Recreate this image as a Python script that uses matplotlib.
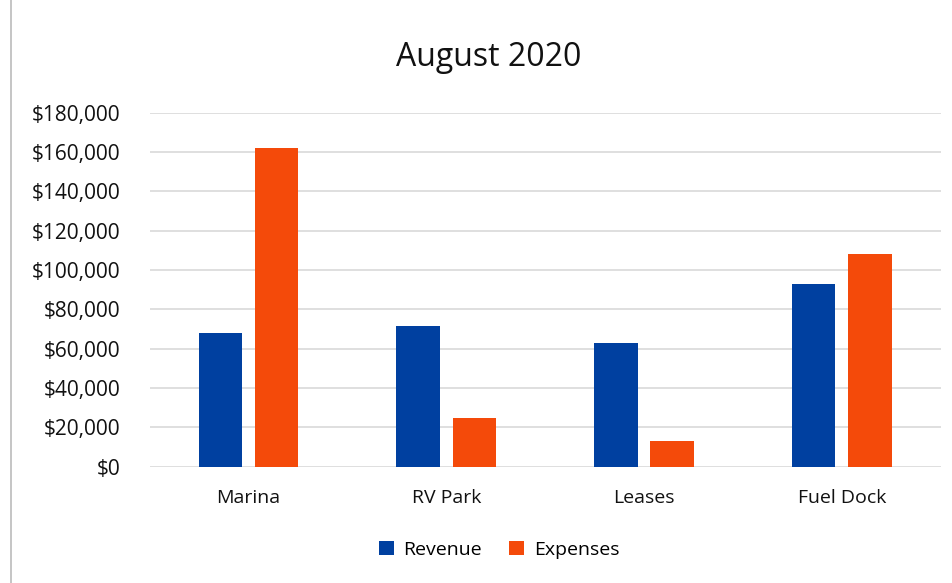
import numpy as np
import matplotlib.pyplot as plt
from matplotlib.lines import Line2D

# chart data
categories = ['Marina', 'RV Park', 'Leases', 'Fuel Dock']
revenue = [68000, 71500, 63000, 93000]
expenses = [162000, 25000, 13000, 108000]
yticks = list(range(0, 180001, 20000))

blue = '#0040A0'
orange = '#F44A0A'

plt.rcParams['font.family'] = ['Open Sans', 'DejaVu Sans']

fig = plt.figure(figsize=(9.53, 5.83), dpi=100)
ax = fig.add_axes([0.157, 0.1995, 0.83, 0.607])

x = np.arange(len(categories))
w = 0.22
ax.bar(x - 0.142, revenue, width=w, color=blue, label='Revenue', zorder=3)
ax.bar(x + 0.142, expenses, width=w, color=orange, label='Expenses', zorder=3)

ax.set_xlim(-0.5, 3.5)
ax.set_ylim(0, 180000)
ax.set_yticks(yticks)
ax.set_yticklabels(['${:,}'.format(v) for v in yticks], fontsize=15, color='#111111')
ax.set_xticks(x)
ax.set_xticklabels(categories, fontsize=14, color='#111111')
ax.tick_params(length=0)
ax.tick_params(axis='x', pad=16)
ax.tick_params(axis='y', pad=21)
ax.grid(axis='y', color='#d9d9d9', linewidth=1.2, zorder=0)
for s in ax.spines.values():
    s.set_visible(False)

fig.text(0.513, 0.902, 'August 2020', ha='center', va='center', fontsize=23, color='#111111')

ax.legend(loc='upper center', bbox_to_anchor=(0.442, -0.16), ncol=2, frameon=False,
          fontsize=14, handlelength=0.75, handleheight=0.75, handletextpad=0.5,
          columnspacing=1.4)

# faint left border of the scanned chart frame
fig.add_artist(Line2D([0.012, 0.012], [0.0, 1.0], color='#bbbbbb', linewidth=1.2))

fig.savefig('out.png', dpi=100)
